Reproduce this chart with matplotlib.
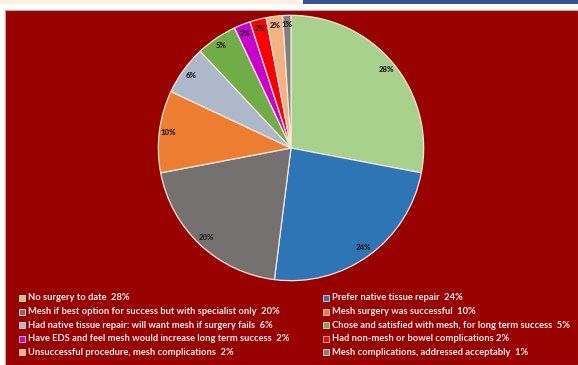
import matplotlib
matplotlib.use("Agg")
import matplotlib.pyplot as plt
from matplotlib.patches import Rectangle

plt.rcParams['font.family'] = ['Lato', 'DejaVu Sans']

labels = [
    "No surgery to date  28%",
    "Prefer native tissue repair  24%",
    "Mesh if best option for success but with specialist only  20%",
    "Mesh surgery was successful  10%",
    "Had native tissue repair: will want mesh if surgery fails  6%",
    "Chose and satisfied with mesh, for long term success  5%",
    "Have EDS and feel mesh would increase long term success  2%",
    "Had non-mesh or bowel complications 2%",
    "Unsuccessful procedure, mesh complications  2%",
    "Mesh complications, addressed acceptably  1%",
]
values = [28, 24, 20, 10, 6, 5, 2, 2, 2, 1]
colors = ["#A9D18E", "#2E75B6", "#767171", "#ED7D31", "#ADB9CA",
          "#70AD47", "#CC00CC", "#FF0000", "#F4B183", "#808080"]

W, H = 578, 365
fig = plt.figure(figsize=(W / 100, H / 100), dpi=100)
fig.patch.set_facecolor("white")

def px(x0, y0, w, h):
    return [x0 / W, 1 - (y0 + h) / H, w / W, h / H]

# decorative top strip and red panel
bg = fig.add_axes([0, 0, 1, 1], zorder=0)
bg.set_xlim(0, W); bg.set_ylim(H, 0); bg.axis("off")
bg.add_patch(Rectangle((0, 0), 302, 4, color="#FCF1E0", lw=0))
bg.add_patch(Rectangle((303, 0), 275, 4, color="#2F5597", lw=0))
bg.add_patch(Rectangle((5, 10), W - 5, H - 10, facecolor="#990000",
                       edgecolor="#D9A0A0", lw=0.8))

# pie
cx, cy, r = 291, 148, 134
ax = fig.add_axes(px(cx - r, cy - r, 2 * r, 2 * r), zorder=1)
wedges, texts, autotexts = ax.pie(
    values, colors=colors, startangle=90, counterclock=False,
    autopct=lambda p: f"{p:.0f}%", pctdistance=0.93,
    wedgeprops=dict(edgecolor="#F5E6DA", linewidth=0.9),
    textprops=dict(fontsize=5.6, fontweight="heavy", color="#262626"))
ax.set_xlim(-1.01, 1.01); ax.set_ylim(-1.01, 1.01)
ax.set_aspect("equal"); ax.axis("off")

# legend (row-major, two columns)
col_x = [19, 323]
row_y0, row_dy = 298, 13.6
for i, (lab, c) in enumerate(zip(labels, colors)):
    row, col = divmod(i, 2)
    x = col_x[col]
    y = row_y0 + row * row_dy
    bg.add_patch(Rectangle((x, y - 3), 6, 6, facecolor=c,
                           edgecolor="#E8D0D0", lw=0.6))
    bg.text(x + 9, y, lab, color="#F4F0F0", fontsize=6.75,
            fontweight="bold", va="center", ha="left")

fig.savefig("out.png", dpi=100, facecolor=fig.get_facecolor())
